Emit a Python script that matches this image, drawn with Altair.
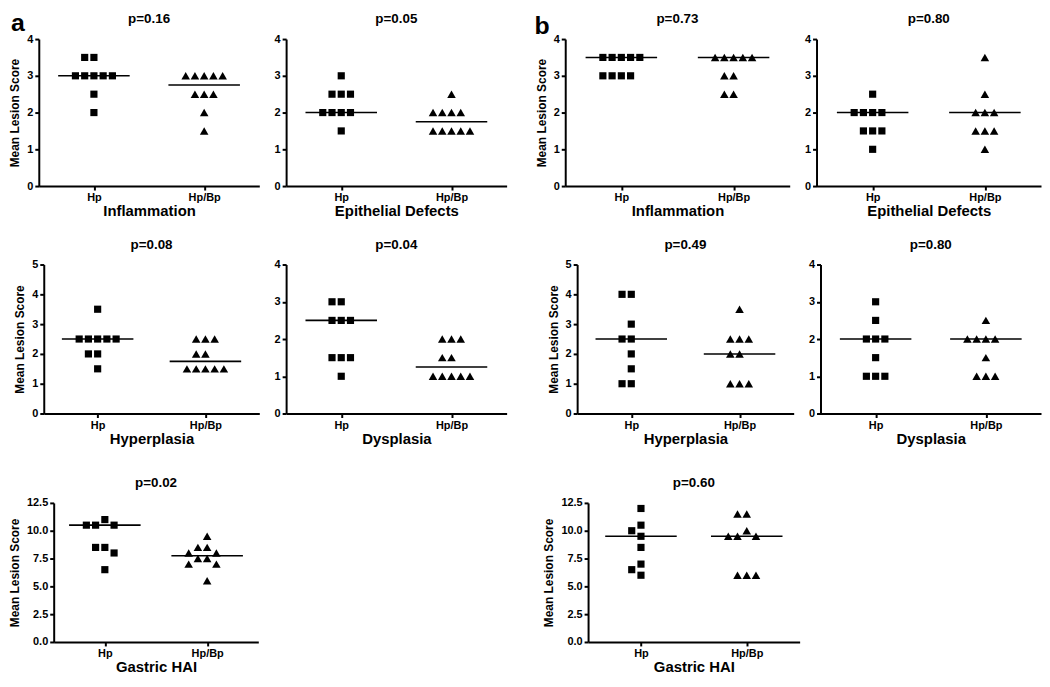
import altair as alt
import pandas as pd

FONT = "Liberation Sans"
GROUPS = ["Hp", "Hp/Bp"]
Y_TITLE = "Mean Lesion Score"

# ---- section a ----
a_inflam_hp = [3.5, 3.5, 3.0, 3.0, 3.0, 3.0, 3.0, 2.5, 2.0]
a_inflam_bp = [3.0, 3.0, 3.0, 3.0, 3.0, 2.5, 2.5, 2.5, 2.0, 1.5]
a_epi_hp = [3.0, 2.5, 2.5, 2.5, 2.0, 2.0, 2.0, 2.0, 1.5]
a_epi_bp = [2.5, 2.0, 2.0, 2.0, 2.0, 1.5, 1.5, 1.5, 1.5, 1.5]
a_hyp_hp = [3.5, 2.5, 2.5, 2.5, 2.5, 2.5, 2.0, 2.0, 1.5]
a_hyp_bp = [2.5, 2.5, 2.5, 2.0, 2.0, 1.5, 1.5, 1.5, 1.5, 1.5]
a_dys_hp = [3.0, 3.0, 2.5, 2.5, 2.5, 1.5, 1.5, 1.5, 1.0]
a_dys_bp = [2.0, 2.0, 2.0, 1.5, 1.5, 1.0, 1.0, 1.0, 1.0, 1.0]
a_hai_hp = [11.0, 10.5, 10.5, 10.5, 8.5, 8.5, 8.0, 6.5]
a_hai_bp = [9.5, 8.5, 8.5, 8.0, 8.0, 7.5, 7.5, 7.0, 7.0, 5.5]

# ---- section b ----
b_inflam_hp = [3.5, 3.5, 3.5, 3.5, 3.5, 3.0, 3.0, 3.0, 3.0]
b_inflam_bp = [3.5, 3.5, 3.5, 3.5, 3.5, 3.0, 3.0, 2.5, 2.5]
b_epi_hp = [2.5, 2.0, 2.0, 2.0, 2.0, 1.5, 1.5, 1.5, 1.0]
b_epi_bp = [3.5, 2.5, 2.0, 2.0, 2.0, 1.5, 1.5, 1.5, 1.0]
b_hyp_hp = [4.0, 4.0, 3.0, 2.5, 2.5, 2.0, 1.5, 1.0, 1.0]
b_hyp_bp = [3.5, 2.5, 2.5, 2.5, 2.0, 2.0, 1.0, 1.0, 1.0]
b_dys_hp = [3.0, 2.5, 2.0, 2.0, 2.0, 1.5, 1.0, 1.0, 1.0]
b_dys_bp = [2.5, 2.0, 2.0, 2.0, 2.0, 1.5, 1.0, 1.0, 1.0]
b_hai_hp = [12.0, 10.5, 10.0, 9.5, 8.5, 7.0, 6.5, 6.0]
b_hai_bp = [11.5, 11.5, 10.0, 9.5, 9.5, 9.5, 6.0, 6.0, 6.0]

# horizontal median lines [Hp, Hp/Bp]
a_med = {"inflam": [3.0, 2.75], "epi": [2.0, 1.75], "hyp": [2.5, 1.75],
         "dys": [2.5, 1.25], "hai": [10.5, 7.75]}
b_med = {"inflam": [3.5, 3.5], "epi": [2.0, 2.0], "hyp": [2.5, 2.0],
         "dys": [2.0, 2.0], "hai": [9.5, 9.5]}

p_a = ["p=0.16", "p=0.05", "p=0.08", "p=0.04", "p=0.02"]
p_b = ["p=0.73", "p=0.80", "p=0.49", "p=0.80", "p=0.60"]
x_titles = ["Inflammation", "Epithelial Defects", "Hyperplasia", "Dysplasia", "Gastric HAI"]

ticks_4 = [0, 1, 2, 3, 4]
ticks_5 = [0, 1, 2, 3, 4, 5]
ticks_hai = [0.0, 2.5, 5.0, 7.5, 10.0, 12.5]


def swarm(values, px_per_unit, marker=8.5):
    """Column-scatter slot assignment: spread points that would overlap."""
    order = [0, -1, 1, -2, 2, -3, 3, -4, 4, -5, 5]
    placed, slots = [], []
    for v in values:
        chosen = order[-1]
        for s in order:
            if all(not (ps == s and abs(pv - v) * px_per_unit < marker) for ps, pv in placed):
                chosen = s
                break
        placed.append((chosen, v))
        slots.append(chosen)
    return slots


def panel(hp, bp, med, ptitle, xtitle, yticks, W, H, show_ytitle,
          letter=None, letter_x=-28, letter_y=-8, fmt="d", spacer=None, inset=0):
    ymax = yticks[-1]
    ppu_y = H / ymax
    half = (W - inset) / 2.0
    step = 9.3 / half
    rows = []
    for gi, (g, vals) in enumerate(zip(GROUPS, [hp, bp])):
        for v, s in zip(vals, swarm(vals, ppu_y)):
            rows.append({"grp": g, "x": gi + 1 + s * step, "v": v})
    df = pd.DataFrame(rows)
    hw = 36 / half
    mdf = pd.DataFrame({"grp": GROUPS, "x1": [1 - hw, 2 - hw],
                        "x2": [1 + hw, 2 + hw], "v": med})

    if inset:
        xs = alt.Scale(domain=[0.5, 2.5], range=[inset, W], nice=False, zero=False)
    else:
        xs = alt.Scale(domain=[0.5, 2.5], nice=False, zero=False)
    ys = alt.Scale(domain=[0, ymax], nice=False, zero=True)
    xaxis = alt.Axis(values=[1, 2], labelExpr="datum.value == 1 ? 'Hp' : 'Hp/Bp'",
                     title=xtitle, titlePadding=1, labelPadding=2, labelFlush=False)
    ykw = dict(values=yticks, format=fmt, labelPadding=2, offset=-inset)
    if show_ytitle:
        yaxis = alt.Axis(title=Y_TITLE, titlePadding=5, **ykw)
    else:
        yaxis = alt.Axis(title=None, **ykw)

    def X(f):
        return alt.X(f, type="quantitative", scale=xs, axis=xaxis)

    def Y(f):
        return alt.Y(f, type="quantitative", scale=ys, axis=yaxis)

    rules = alt.Chart(mdf).mark_rule(color="black", strokeWidth=1.6).encode(
        x=X("x1"), x2="x2:Q", y=Y("v"))
    squares = alt.Chart(df[df.grp == "Hp"]).mark_point(
        shape="square", filled=True, size=52, color="black", opacity=1).encode(
        x=X("x"), y=Y("v"))
    tris = alt.Chart(df[df.grp == "Hp/Bp"]).mark_point(
        shape="triangle-up", filled=True, size=74, color="black", opacity=1).encode(
        x=X("x"), y=Y("v"))
    ttl = alt.Chart(pd.DataFrame({"t": [ptitle]})).mark_text(
        font=FONT, fontSize=13.5, fontWeight="bold", color="black",
        align="center", baseline="alphabetic").encode(
        text="t:N", x=alt.value((inset + W) / 2.0), y=alt.value(-16))
    layers = [rules, squares, tris, ttl]
    if letter:
        lt = alt.Chart(pd.DataFrame({"t": [letter]})).mark_text(
            font=FONT, fontSize=25, fontWeight="bold", color="black",
            align="left", baseline="alphabetic").encode(
            text="t:N", x=alt.value(letter_x), y=alt.value(letter_y))
        layers.append(lt)
    if spacer is not None:
        sp = alt.Chart(pd.DataFrame({"t": ["."]})).mark_text(
            fontSize=10, opacity=0, align="left", baseline="middle").encode(
            text="t:N", x=alt.value(spacer), y=alt.value(H / 2))
        layers.append(sp)
    return alt.layer(*layers).properties(width=W, height=H)


WA = 222
WB = 226
H1 = 148
H2 = 150
H3 = 140

a1 = panel(a_inflam_hp, a_inflam_bp, a_med["inflam"], p_a[0], x_titles[0], ticks_4, WA, H1, True, letter="a")
a2 = panel(a_epi_hp, a_epi_bp, a_med["epi"], p_a[1], x_titles[1], ticks_4, WA, H1, False)
b1 = panel(b_inflam_hp, b_inflam_bp, b_med["inflam"], p_b[0], x_titles[0], ticks_4, WB, H1, True,
           letter="b", letter_x=-31, letter_y=-5, spacer=-44)
b2 = panel(b_epi_hp, b_epi_bp, b_med["epi"], p_b[1], x_titles[1], ticks_4, WB, H1, False)

a3 = panel(a_hyp_hp, a_hyp_bp, a_med["hyp"], p_a[2], x_titles[2], ticks_5, WA, H2, True, inset=5)
a4 = panel(a_dys_hp, a_dys_bp, a_med["dys"], p_a[3], x_titles[3], ticks_4, WA, H2, False)
b3 = panel(b_hyp_hp, b_hyp_bp, b_med["hyp"], p_b[2], x_titles[2], ticks_5, 218, H2, True, spacer=-56)
b4 = panel(b_dys_hp, b_dys_bp, b_med["dys"], p_b[3], x_titles[3], ticks_4, 222, H2, False)

a5 = panel(a_hai_hp, a_hai_bp, a_med["hai"], p_a[4], x_titles[4], ticks_hai, 221, H3, True,
           fmt=".1f", inset=15)
b5 = panel(b_hai_hp, b_hai_bp, b_med["hai"], p_b[4], x_titles[4], ticks_hai, 213, H3, True, fmt=".1f")

row1 = alt.hconcat(a1, a2, b1, b2, spacing=13)
row2 = alt.hconcat(a3, a4, b3, b4, spacing=13)
row3 = alt.hconcat(a5, b5, spacing=285)

top = alt.vconcat(row1, row2, spacing=17)
chart = alt.vconcat(top, row3, spacing=28).properties(
    padding=0, background="white"
).configure_view(stroke="transparent").configure_axis(
    grid=False, domainColor="black", domainWidth=2, tickColor="black", tickWidth=2,
    tickSize=4, labelFont=FONT, labelFontWeight="bold", labelFontSize=11,
    labelColor="black", titleFont=FONT, titleFontWeight="bold", titleColor="black"
).configure_axisY(titleFontSize=12).configure_axisX(titleFontSize=15)

chart.save("out.html", embed_options={"renderer": "svg", "actions": False})
